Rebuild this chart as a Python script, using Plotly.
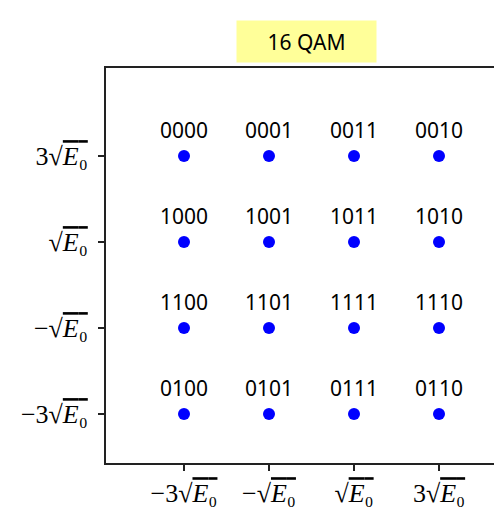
import plotly.graph_objects as go

x_levels = [-3, -1, 1, 3]
y_levels = [3, 1, -1, -3]
labels = [
    ["0000", "0001", "0011", "0010"],
    ["1000", "1001", "1011", "1010"],
    ["1100", "1101", "1111", "1110"],
    ["0100", "0101", "0111", "0110"],
]
tick_vals = [-3, -1, 1, 3]
rad = "<span style='text-decoration:overline'><i>E</i>₀</span>"
tick_text = ["−3√" + rad, "−√" + rad, "√" + rad, "3√" + rad]
title_text = "16 QAM"

xs, ys, ts = [], [], []
for i, yv in enumerate(y_levels):
    for j, xv in enumerate(x_levels):
        xs.append(xv)
        ys.append(yv)
        ts.append(labels[i][j])

fig = go.Figure()
fig.add_trace(go.Scatter(
    x=xs, y=ys, mode="markers",
    marker=dict(color="blue", size=12),
    showlegend=False, cliponaxis=False,
))

annotations = []
for x, y, t in zip(xs, ys, ts):
    annotations.append(dict(
        x=x, y=y, text=t, xref="x", yref="y", showarrow=False,
        yanchor="bottom", xanchor="center", yshift=10,
        font=dict(family="Noto Sans", size=21, color="black"),
    ))

axis_common = dict(
    showline=True, linecolor="#222", linewidth=2,
    ticks="outside", ticklen=6, tickwidth=1.5, tickcolor="#222",
    showgrid=False, zeroline=False,
    tickvals=tick_vals, ticktext=tick_text,
    tickfont=dict(family="Liberation Serif", size=26, color="black"),
)
fig.update_xaxes(range=[-4.835, 4.294], mirror=True, **axis_common)
fig.update_yaxes(range=[-4.14, 5.047], ticklabelstandoff=5, **axis_common)

annotations.append(dict(
    text=title_text, xref="paper", yref="paper",
    x=(306.5 - 106) / 388, y=1 + (68 - 41.5) / 395,
    xanchor="center", yanchor="middle", showarrow=False,
    font=dict(family="Noto Sans", size=21, color="black"),
    bgcolor="#FFFF99", width=137, height=39,
))

fig.update_layout(
    width=494, height=513,
    margin=dict(l=106, r=0, t=68, b=50),
    plot_bgcolor="white", paper_bgcolor="white",
    annotations=annotations,
)
fig.write_html("out.html", config={"displayModeBar": False},
               post_script="document.body.style.margin='0';")
